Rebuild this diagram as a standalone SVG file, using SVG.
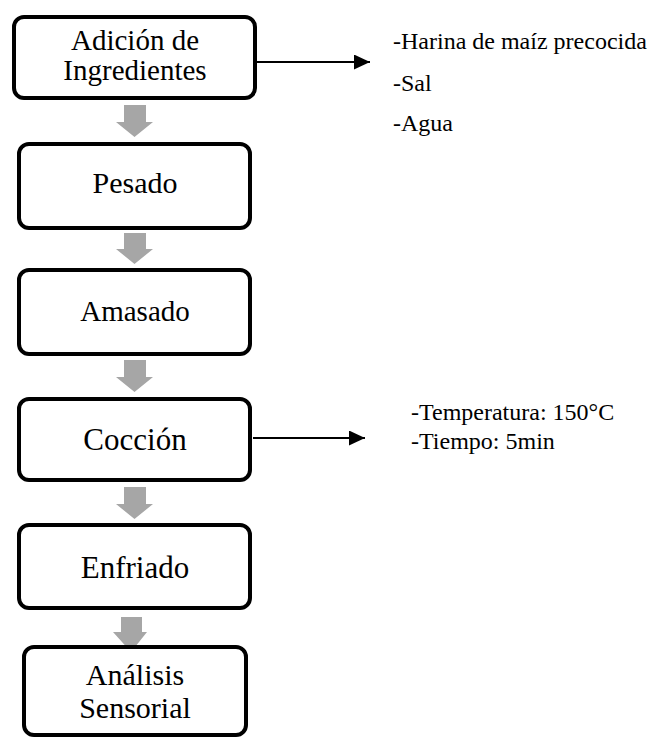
<svg xmlns="http://www.w3.org/2000/svg" width="650" height="738" viewBox="0 0 650 738">
  <style>
    .box { fill: #ffffff; stroke: #000000; stroke-width: 4; }
    text { font-family: 'Liberation Serif', 'Times New Roman', serif; fill: #000000; }
    .lbl { text-anchor: middle; }
    .side { font-size: 24px; }
    .flow { fill: #a6a6a6; }
    .link { stroke: #000000; stroke-width: 2; fill: none; marker-end: url(#arrowhead); }
  </style>
  <defs>
    <marker id="arrowhead" markerUnits="userSpaceOnUse" markerWidth="16" markerHeight="15" refX="16" refY="7.5" orient="auto">
      <path d="M0,0 L16,7.5 L0,15 Z" fill="#000000"/>
    </marker>
  </defs>
  <rect width="650" height="738" fill="#ffffff"/>

  <g id="connectors">
    <polygon class="flow" points="124,105 146,105 146,122 153,122 134.5,137 116,122 124,122"/>
    <polygon class="flow" points="124,233 146,233 146,249 153,249 134.5,264 116,249 124,249"/>
    <polygon class="flow" points="124,360 146,360 146,377 153,377 134.5,392 116,377 124,377"/>
    <polygon class="flow" points="124,487 146,487 146,504 153,504 134.5,519 116,504 124,504"/>
    <polygon class="flow" points="121,617 142,617 142,632 147,632 131,652 113,632 121,632"/>
    <line class="link" x1="257" y1="62" x2="370" y2="62"/>
    <line class="link" x1="253" y1="438" x2="365" y2="438"/>
  </g>

  <g id="node-adicion">
    <rect class="box" x="14" y="17" width="241" height="81" rx="10"/>
    <text class="lbl" x="135" y="50" font-size="29">Adición de</text>
    <text class="lbl" x="135" y="80" font-size="29">Ingredientes</text>
  </g>
  <g id="node-pesado">
    <rect class="box" x="19" y="144" width="231" height="84" rx="10"/>
    <text class="lbl" x="135" y="193" font-size="30">Pesado</text>
  </g>
  <g id="node-amasado">
    <rect class="box" x="19" y="270" width="231" height="84" rx="10"/>
    <text class="lbl" x="135" y="321" font-size="29">Amasado</text>
  </g>
  <g id="node-coccion">
    <rect class="box" x="19" y="399" width="231" height="81" rx="10"/>
    <text class="lbl" x="135" y="450" font-size="31">Cocción</text>
  </g>
  <g id="node-enfriado">
    <rect class="box" x="19" y="525" width="231" height="83" rx="10"/>
    <text class="lbl" x="135" y="578" font-size="31">Enfriado</text>
  </g>
  <g id="node-analisis">
    <rect class="box" x="24" y="647" width="222" height="88" rx="10"/>
    <text class="lbl" x="135" y="685" font-size="30">Análisis</text>
    <text class="lbl" x="135" y="718" font-size="30">Sensorial</text>
  </g>

  <g id="ingredients-list">
    <text class="side" x="393" y="49">-Harina de maíz precocida</text>
    <text class="side" x="393" y="91">-Sal</text>
    <text class="side" x="393" y="131">-Agua</text>
  </g>
  <g id="cooking-params">
    <text class="side" x="411" y="420">-Temperatura: 150°C</text>
    <text class="side" x="411" y="449">-Tiempo: 5min</text>
  </g>
</svg>
